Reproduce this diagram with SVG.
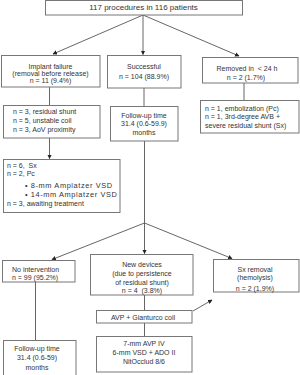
<svg xmlns="http://www.w3.org/2000/svg" width="300" height="375" viewBox="0 0 300 375">
<defs>
<style>
.box{fill:#fff;stroke:#777;stroke-width:1}
.ln{fill:none;stroke:#555;stroke-width:0.9}
text{font-family:"Liberation Sans",Arial,sans-serif;font-size:7px;fill:#333;white-space:pre}
.c{text-anchor:middle}
.big{font-size:8px}
.sp{font-size:7.4px;letter-spacing:0.6px}
</style>
<marker id="ah" viewBox="0 0 8 8" refX="7" refY="4" markerWidth="4.5" markerHeight="4.5" orient="auto" markerUnits="userSpaceOnUse">
<path d="M0,0 L8,4 L0,8 z" fill="#222"/>
</marker>
</defs>
<rect width="300" height="375" fill="#fff"/>
<g id="connectors">
<line class="ln" x1="143" y1="15" x2="53" y2="54" marker-end="url(#ah)"/>
<line class="ln" x1="143" y1="15" x2="143" y2="54.5" marker-end="url(#ah)"/>
<line class="ln" x1="143" y1="15" x2="239" y2="56" marker-end="url(#ah)"/>
<line class="ln" x1="49.5" y1="87" x2="49.5" y2="105"/>
<line class="ln" x1="49.5" y1="138" x2="49.5" y2="158.5" marker-end="url(#ah)"/>
<line class="ln" x1="144" y1="88" x2="144" y2="106"/>
<line class="ln" x1="244" y1="83" x2="244" y2="100"/>
<line class="ln" x1="144.5" y1="141" x2="144.5" y2="223"/>
<line class="ln" x1="144.5" y1="223" x2="52" y2="259.5" marker-end="url(#ah)"/>
<line class="ln" x1="144.5" y1="223" x2="144.5" y2="253.5" marker-end="url(#ah)"/>
<line class="ln" x1="144.5" y1="223" x2="232" y2="258.5" marker-end="url(#ah)"/>
<line class="ln" x1="35.5" y1="282" x2="35.5" y2="340"/>
<line class="ln" x1="144.5" y1="295" x2="144.5" y2="310"/>
<line class="ln" x1="144.5" y1="323" x2="144.5" y2="336"/>
<line class="ln" x1="193" y1="311" x2="212" y2="300" marker-end="url(#ah)"/>
</g>
<g id="n-top">
<rect class="box" x="45.5" y="0.5" width="197" height="14.5"/>
<text class="c big" x="143.5" y="10">117 procedures in 116 patients</text>
</g>
<g id="n-implant">
<rect class="box" x="1.5" y="55.5" width="98.5" height="31.5"/>
<text class="c" x="50.5" y="68.5">Implant failure</text>
<text class="c" x="50.5" y="76">(removal before release)</text>
<text class="c" x="50.5" y="82.5">n = 11 (9.4%)</text>
</g>
<g id="n-success">
<rect class="box" x="107.5" y="55.5" width="73.5" height="32.5"/>
<text class="c" x="144" y="69">Successful</text>
<text class="c" x="144" y="78.5">n = 104 (88.9%)</text>
</g>
<g id="n-removed">
<rect class="box" x="202.5" y="57.5" width="95.5" height="25.5"/>
<text class="c" x="247" y="71">Removed in  &lt; 24 h</text>
<text class="c" x="246" y="80">n = 2 (1.7%)</text>
</g>
<g id="n-reasons">
<rect class="box" x="3.5" y="105.5" width="96.5" height="32.5"/>
<text x="13" y="114">n = 3, residual shunt</text>
<text x="13" y="122.5">n = 5, unstable coil</text>
<text x="13" y="131.5">n = 3, AoV proximity</text>
</g>
<g id="n-followup1">
<rect class="box" x="110.5" y="106.5" width="67.5" height="34.5"/>
<text class="c" x="144" y="117.5">Follow-up time</text>
<text class="c" x="144" y="126">31.4 (0.6-59.9)</text>
<text class="c" x="144" y="135">months</text>
</g>
<g id="n-embol">
<rect class="box" x="200.5" y="100.5" width="98.5" height="32.5"/>
<text x="205" y="110.5">n = 1, embolization (Pc)</text>
<text x="205" y="119">n = 1, 3rd-degree AVB +</text>
<text x="205" y="127.5">severe residual shunt (Sx)</text>
</g>
<g id="n-treat">
<rect class="box" x="3.5" y="159.5" width="116.5" height="53"/>
<text x="7" y="168">n = 6,  Sx</text>
<text x="7" y="176">n = 2, Pc</text>
<text class="sp" x="25" y="187.5">• 8-mm Amplatzer VSD</text>
<text class="sp" x="25" y="196.5">• 14-mm Amplatzer VSD</text>
<text x="7" y="205.5">n = 3, awaiting treatment</text>
</g>
<g id="n-nointerv">
<rect class="box" x="2.5" y="260.5" width="72.5" height="21.5"/>
<text x="12" y="271.5">No intervention</text>
<text x="12" y="280">n = 99 (95.2%)</text>
</g>
<g id="n-followup2">
<rect class="box" x="3.5" y="340.5" width="72.5" height="36"/>
<text class="c" x="37" y="350.5">Follow-up time</text>
<text class="c" x="37" y="359.5">31.4 (0.6-59)</text>
<text class="c" x="37" y="369.5">months</text>
</g>
<g id="n-newdev">
<rect class="box" x="90.5" y="254.5" width="102.5" height="40.5"/>
<text class="c" x="142" y="266.5">New devices</text>
<text class="c" x="142" y="275.5">(due to persistence</text>
<text class="c" x="142" y="284.5">of residual shunt)</text>
<text class="c" x="142" y="293">n = 4  (3.8%)</text>
</g>
<g id="n-avp">
<rect class="box" x="96.5" y="310.5" width="95.5" height="12.5"/>
<text class="c" x="143" y="319.5">AVP + Gianturco coil</text>
</g>
<g id="n-devlist">
<rect class="box" x="96.5" y="336.5" width="95.5" height="35.5"/>
<text class="c" x="144" y="346">7-mm AVP IV</text>
<text class="c" x="144" y="355">6-mm VSD + ADO II</text>
<text class="c" x="144" y="364">NitOcclud 8/6</text>
</g>
<g id="n-sxremoval">
<rect class="box" x="213.5" y="259.5" width="85.5" height="32.5"/>
<text class="c" x="255" y="271.5">Sx removal</text>
<text class="c" x="255" y="280">(hemolysis)</text>
<text class="c" x="255" y="290.5">n = 2 (1.9%)</text>
</g>
</svg>
